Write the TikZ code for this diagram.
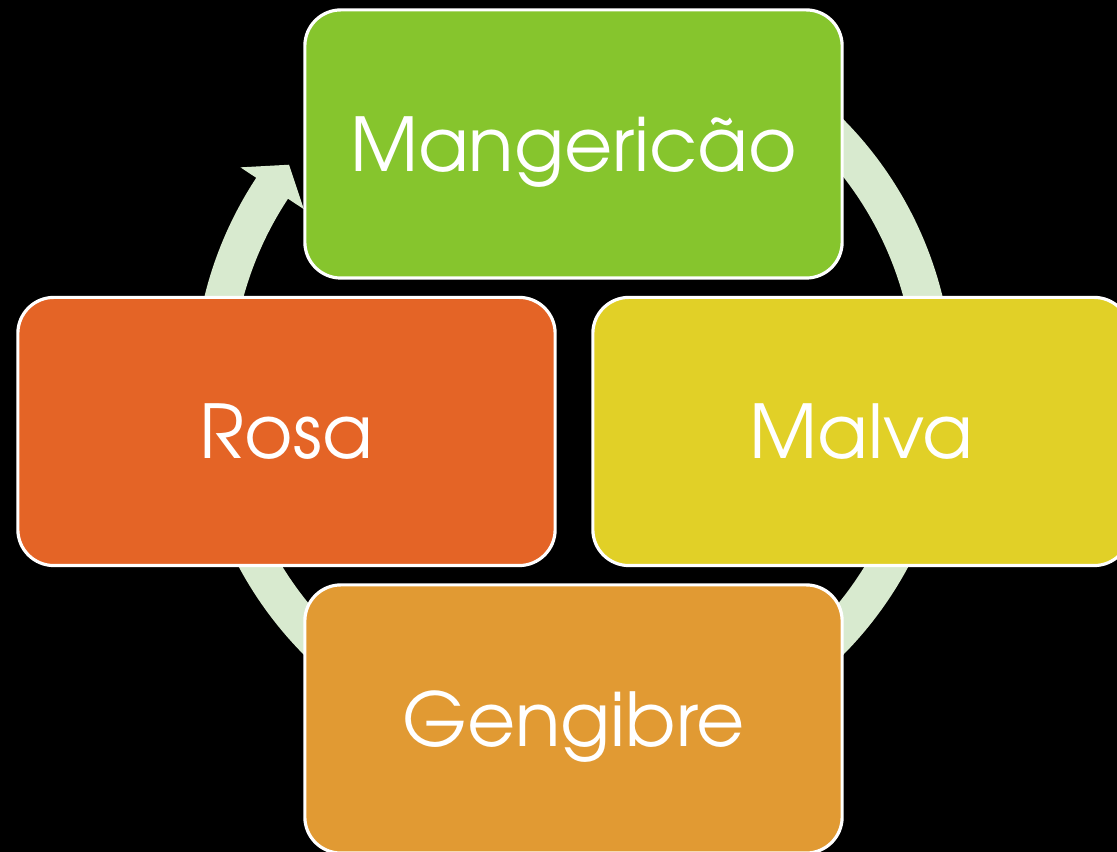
\documentclass[tikz,border=0pt]{standalone}
\usepackage{fontspec}
\setmainfont{TeX Gyre Adventor}
\definecolor{basil}{HTML}{86C52D}
\definecolor{rosecol}{HTML}{E46426}
\definecolor{mallow}{HTML}{E1D027}
\definecolor{ginger}{HTML}{E19A33}
\definecolor{ringcol}{HTML}{D8EACF}
\begin{document}
\begin{tikzpicture}[x=0.01cm,y=0.01cm,
    herb/.style={draw=white,line width=0.9pt,rounded corners=0.36cm,
      minimum width=5.37cm,minimum height=2.68cm,text=white,
      font=\fontsize{21.1}{25}\selectfont,text height=0.55cm,text depth=0pt}]
    \useasboundingbox (0,0) rectangle (1117,852);
    \clip (0,0) rectangle (1117,852);
    \fill[black] (0,0) rectangle (1117,852);

    \coordinate (hub) at (573.5,465);
    \fill[ringcol] ([shift={(60:380)}]hub) arc[start angle=60,end angle=-213.4,radius=380]
      -- ([shift={(146.6:399)}]hub) -- ([shift={(142:361)}]hub)
      -- ([shift={(146.6:323)}]hub) -- ([shift={(146.6:342)}]hub)
      arc[start angle=-213.4,end angle=60,radius=342] -- cycle;

    \node[herb,fill=basil] (mangericao) at (573.5,708) {Mangericão};
    \node[herb,fill=rosecol] (rosa) at (286.5,420.5) {Rosa};
    \node[herb,fill=mallow] (malva) at (861.5,420.5) {Malva};
    \node[herb,fill=ginger] (gengibre) at (573.5,133) {Gengibre};
\end{tikzpicture}
\end{document}
